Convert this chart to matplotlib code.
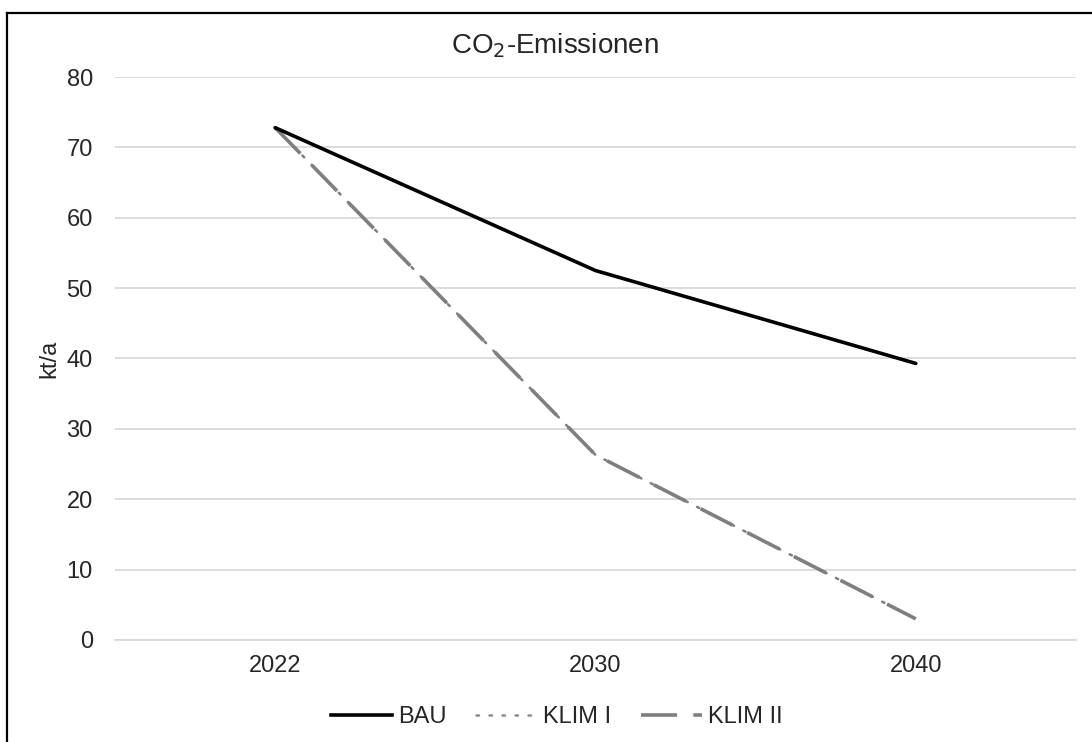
import matplotlib.pyplot as plt
from matplotlib.lines import Line2D

plt.rcParams['font.family'] = ['Liberation Sans', 'DejaVu Sans']

# data
years = ["2022", "2030", "2040"]
bau = [72.8, 52.5, 39.3]
klim_1 = [72.8, 26.3, 3.0]
klim_2 = [72.8, 26.3, 3.0]

fig = plt.figure(figsize=(10.92, 7.42), dpi=100)
ax = fig.add_axes([0.1053, 0.1375, 0.88, 0.7587])

x = range(len(years))
ax.plot(x, klim_1, color="#7f7f7f", lw=1.8, linestyle=(0, (1, 4.2)),
        dash_capstyle="round", label="KLIM I", zorder=3)
ax.plot(x, klim_2, color="#7f7f7f", lw=2.6, linestyle=(0, (10, 4.5)),
        label="KLIM II", zorder=3)
ax.plot(x, bau, color="black", lw=2.6, solid_capstyle="round", label="BAU", zorder=4)

ax.set_xlim(-0.5, 2.5)
ax.set_ylim(0, 80)
ax.set_yticks(range(0, 81, 10))
ax.set_xticks(list(x))
ax.set_xticklabels(years)
ax.grid(axis="y", color="#d9d9d9", lw=1.3)
ax.set_axisbelow(True)
for side in ["top", "right", "left"]:
    ax.spines[side].set_visible(False)
ax.spines["bottom"].set_color("#d9d9d9")
ax.spines["bottom"].set_linewidth(1.3)
ax.tick_params(length=0, labelsize=17, colors="#262626")
ax.tick_params(axis="y", pad=16)
ax.tick_params(axis="x", pad=11)
ax.set_ylabel("kt/a", fontsize=17, color="#262626", labelpad=4)

fig.text(0.508, 0.938, "CO$_2$-Emissionen", ha="center", va="center",
         fontsize=20, color="#262626")

# legend in excel order
handles = [
    Line2D([], [], color="black", lw=2.6),
    Line2D([], [], color="#8c8c8c", lw=1.8, linestyle=(0, (1, 4.2)), dash_capstyle="round"),
    Line2D([], [], color="#7f7f7f", lw=2.6, linestyle=(0, (10, 4.5))),
]
fig.legend(handles, ["BAU", "KLIM I", "KLIM II"], loc="center",
           bbox_to_anchor=(0.51, 0.034), ncol=3, frameon=False, fontsize=17,
           handlelength=2.6, handletextpad=0.25, columnspacing=1.25,
           labelcolor="#262626")

# chart frame (left and top only visible)
fig.add_artist(Line2D([0.0064, 0.0064], [0, 0.9825], color="black", lw=1.6,
                      transform=fig.transFigure))
fig.add_artist(Line2D([0.0064, 1], [0.9825, 0.9825], color="black", lw=1.6,
                      transform=fig.transFigure))

fig.savefig("out.png", dpi=100)
